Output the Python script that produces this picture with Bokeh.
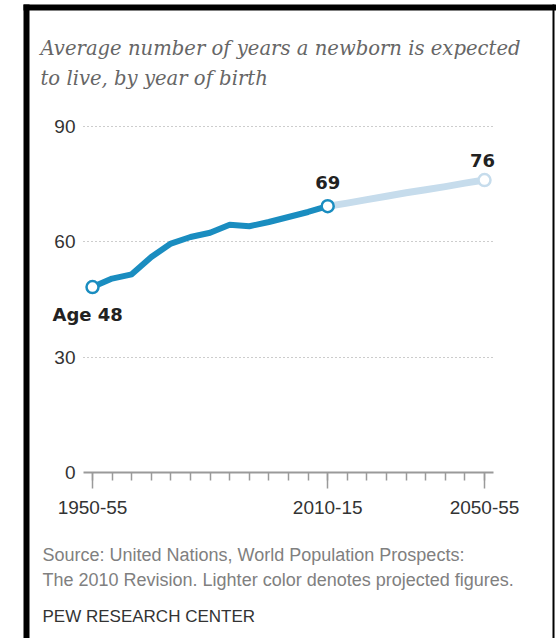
from bokeh.plotting import figure
from bokeh.models import Range1d, FixedTicker, Label, BoxAnnotation
from bokeh.embed import file_html
from bokeh.resources import INLINE

# ---- data ----
periods = ["1950-55", "1955-60", "1960-65", "1965-70", "1970-75", "1975-80",
           "1980-85", "1985-90", "1990-95", "1995-2000", "2000-05", "2005-10",
           "2010-15", "2015-20", "2020-25", "2025-30", "2030-35", "2035-40",
           "2040-45", "2045-50", "2050-55"]
hist_values = [48.2, 50.4, 51.5, 56.0, 59.5, 61.2, 62.3, 64.4, 64.0, 65.1, 66.4, 67.7, 69.2]
proj_values = [69.2, 70.0, 70.9, 71.8, 72.7, 73.5, 74.3, 75.2, 76.0]
y_ticks = [0, 30, 60, 90]
x_label_periods = ["1950-55", "2010-15", "2050-55"]

title_lines = ["Average number of years a newborn is expected",
               "to live, by year of birth"]
source_lines = ["Source: United Nations, World Population Prospects:",
                "The 2010 Revision. Lighter color denotes projected figures."]
credit = "PEW RESEARCH CENTER"

DARK = "#1a8dc0"
LIGHT = "#c6dcec"

x_hist = list(range(len(hist_values)))
x_proj = list(range(len(hist_values) - 1, len(hist_values) - 1 + len(proj_values)))

W, H = 556, 638
# pixel layout of the chart inside the canvas
PX_X0, PX_XSTEP = 92.0, 19.6      # px of first period, px per period
PX_Y0, PX_YUNIT = 472.0, 3.848    # px of value 0, px per year
X0 = -PX_X0 / PX_XSTEP
X1 = (W - PX_X0) / PX_XSTEP
Y0 = -(H - PX_Y0) / PX_YUNIT
Y1 = PX_Y0 / PX_YUNIT


def dx(px):
    return (px - PX_X0) / PX_XSTEP


def dy(py):
    return (PX_Y0 - py) / PX_YUNIT


AX_L, AX_R = dx(83), dx(493)   # extent of grid / axis line

p = figure(width=W, height=H, output_backend="svg", toolbar_location=None,
           x_range=Range1d(X0, X1), y_range=Range1d(Y0, Y1), min_border=0)
p.outline_line_color = None
p.background_fill_color = "white"
p.border_fill_color = "white"

# axes (drawn at fixed locations inside the canvas)
p.xaxis.fixed_location = 0
p.xaxis.bounds = (AX_L, AX_R)
p.xaxis.ticker = FixedTicker(ticks=[periods.index(s) for s in x_label_periods],
                             minor_ticks=list(range(len(periods))))
p.xaxis.major_label_overrides = {periods.index(s): s for s in x_label_periods}
p.xaxis.axis_line_color = "#9a9a9a"
p.xaxis.axis_line_width = 2
p.xaxis.major_tick_line_color = "#9a9a9a"
p.xaxis.minor_tick_line_color = "#9a9a9a"
p.xaxis.major_tick_line_width = 1.5
p.xaxis.minor_tick_line_width = 1.5
p.xaxis.major_tick_out = 16
p.xaxis.major_tick_in = 0
p.xaxis.minor_tick_out = 8
p.xaxis.minor_tick_in = 0
p.xaxis.major_label_standoff = 12
p.xaxis.major_label_text_font = "Liberation Sans"
p.xaxis.major_label_text_font_size = "19px"
p.xaxis.major_label_text_color = "#333333"

p.yaxis.fixed_location = AX_L
p.yaxis.ticker = FixedTicker(ticks=y_ticks)
p.yaxis.axis_line_color = None
p.yaxis.major_tick_line_color = None
p.yaxis.minor_tick_line_color = None
p.yaxis.major_tick_out = 0
p.yaxis.major_label_standoff = 8
p.yaxis.major_label_text_font = "Liberation Sans"
p.yaxis.major_label_text_font_size = "19px"
p.yaxis.major_label_text_color = "#333333"

p.xgrid.grid_line_color = None
p.ygrid.ticker = FixedTicker(ticks=[t for t in y_ticks if t > 0])
p.ygrid.cross_bounds = (AX_L, AX_R)
p.ygrid.grid_line_color = "#9a9a9a"
p.ygrid.grid_line_dash = "1 3"
p.ygrid.grid_line_width = 1.2

# lines
p.line(x_proj, proj_values, line_color=LIGHT, line_width=7, line_cap="round", line_join="round")
p.line(x_hist, hist_values, line_color=DARK, line_width=6, line_cap="round", line_join="round")
p.scatter([x_hist[0], x_hist[-1]], [hist_values[0], hist_values[-1]], size=12,
          fill_color="white", line_color=DARK, line_width=2.5)
p.scatter([x_proj[-1]], [proj_values[-1]], size=12,
          fill_color="white", line_color=LIGHT, line_width=2.5)

# value labels
lab_font = "DejaVu Sans"
p.add_layout(Label(x=x_hist[0], y=hist_values[0], text=f"Age {round(hist_values[0])}",
                   x_offset=-40, y_offset=-27, text_align="left", text_baseline="middle",
                   text_font=lab_font, text_font_style="bold", text_font_size="18px",
                   text_color="#222222"))
p.add_layout(Label(x=x_hist[-1], y=hist_values[-1], text=f"{round(hist_values[-1])}",
                   x_offset=0, y_offset=24, text_align="center", text_baseline="middle",
                   text_font=lab_font, text_font_style="bold", text_font_size="18px",
                   text_color="#222222"))
p.add_layout(Label(x=x_proj[-1], y=proj_values[-1], text=f"{round(proj_values[-1])}",
                   x_offset=-2, y_offset=20, text_align="center", text_baseline="middle",
                   text_font=lab_font, text_font_style="bold", text_font_size="18px",
                   text_color="#222222"))

# title
for i, t in enumerate(title_lines):
    p.add_layout(Label(x=dx(40), y=dy(48 + 30 * i),
                       text=t, text_font="DejaVu Serif", text_font_style="italic",
                       text_font_size="19.6px", text_color="#666666",
                       text_baseline="middle", text_align="left"))

# source
for i, t in enumerate(source_lines):
    p.add_layout(Label(x=dx(42), y=dy(554 + 25 * i),
                       text=t, text_font="Liberation Sans", text_font_size="18px",
                       text_color="#808080", text_baseline="middle", text_align="left"))
p.add_layout(Label(x=dx(42), y=dy(616),
                   text=credit, text_font="Liberation Sans", text_font_size="17px",
                   text_color="#333333", text_baseline="middle", text_align="left"))

# black frame around the graphic
for (l, r, t, b) in [(23, 29, 4, H), (23, W, 4, 10), (552, 554, 4, H)]:
    p.add_layout(BoxAnnotation(left=dx(l), right=dx(r), top=dy(t), bottom=dy(b),
                               fill_color="black", fill_alpha=1, line_color=None))

open("out.html", "w").write(file_html(p, INLINE))
